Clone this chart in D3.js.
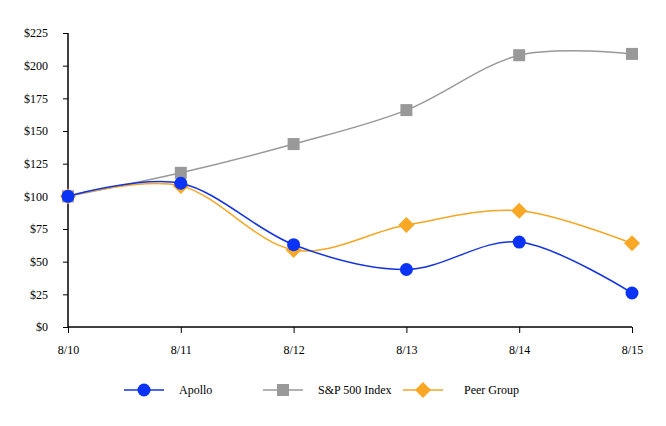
<!DOCTYPE html>
<html><head><meta charset="utf-8">
<script src="https://cdn.jsdelivr.net/npm/d3@7"></script>
<style>body{margin:0;background:#fff}svg{display:block}</style>
</head><body><svg id="c" width="666" height="426"></svg>
<script>
const categories = ["8/10","8/11","8/12","8/13","8/14","8/15"];
const apollo = [100,110,63,44,65,26];
const sp500 = [100,118,140,166,208,209];
const peer = [100,108,59,78,89,64];
const yTicks = [0,25,50,75,100,125,150,175,200,225];

const FONT = "'Liberation Serif', 'Times New Roman', Times, serif";
const svg = d3.select("#c");
const x = d3.scalePoint().domain(categories).range([68,632]);
const y = d3.scaleLinear().domain([0,225]).range([327,33]);

const yAxis = svg.append("g").attr("transform","translate(68,0)")
  .call(d3.axisLeft(y).tickValues(yTicks).tickSize(5).tickPadding(15).tickFormat(d=>"$"+d));
const xAxis = svg.append("g").attr("transform","translate(0,327)")
  .call(d3.axisBottom(x).tickSize(6).tickPadding(12));
[yAxis,xAxis].forEach(a=>{
  a.attr("font-family",null).attr("font-size",null);
  a.select(".domain").attr("stroke","#000").attr("stroke-width",1.5);
  a.selectAll(".tick line").attr("stroke","#000");
  a.selectAll("text").style("font-family",FONT).style("font-size","12px").attr("fill","#000");
});
yAxis.select(".domain").attr("d","M0,33V327");
xAxis.select(".domain").attr("d","M68,0H632");

const series = [
  {name:"S&P 500 Index", values:sp500, color:"#999999", marker:"square"},
  {name:"Peer Group", values:peer, color:"#f5a623", marker:"diamond"},
  {name:"Apollo", values:apollo, color:"#1433e0", marker:"circle"}
];
const line = d3.line().x((d,i)=>x(categories[i])).y(d=>y(d)).curve(d3.curveCardinal.tension(0));

function marker(g, type){
  if(type==="circle") g.append("circle").attr("r",6.5).attr("fill","#0a33f5");
  else if(type==="square") g.append("rect").attr("x",-6).attr("y",-6).attr("width",12).attr("height",12).attr("fill","#999999");
  else g.append("path").attr("d","M0,-8L8,0L0,8L-8,0Z").attr("fill","#f9a825");
}

series.forEach(s=>{
  svg.append("path").attr("d",line(s.values)).attr("fill","none").attr("stroke",s.color).attr("stroke-width",1.5);
  s.values.forEach((v,i)=>{
    const g = svg.append("g").attr("transform",`translate(${x(categories[i])},${y(v)})`);
    marker(g,s.marker);
  });
});

const legend = [
  {s:series[2], lx:124, tx:179},
  {s:series[0], lx:263, tx:318},
  {s:series[1], lx:403, tx:464}
];
legend.forEach(l=>{
  const ly = 390;
  svg.append("line").attr("x1",l.lx).attr("x2",l.lx+40).attr("y1",ly).attr("y2",ly).attr("stroke",l.s.color).attr("stroke-width",1.5);
  const g = svg.append("g").attr("transform",`translate(${l.lx+20},${ly})`);
  marker(g,l.s.marker);
  svg.append("text").attr("x",l.tx).attr("y",ly+4).style("font-family",FONT).style("font-size","12px").text(l.s.name);
});
</script></body></html>
